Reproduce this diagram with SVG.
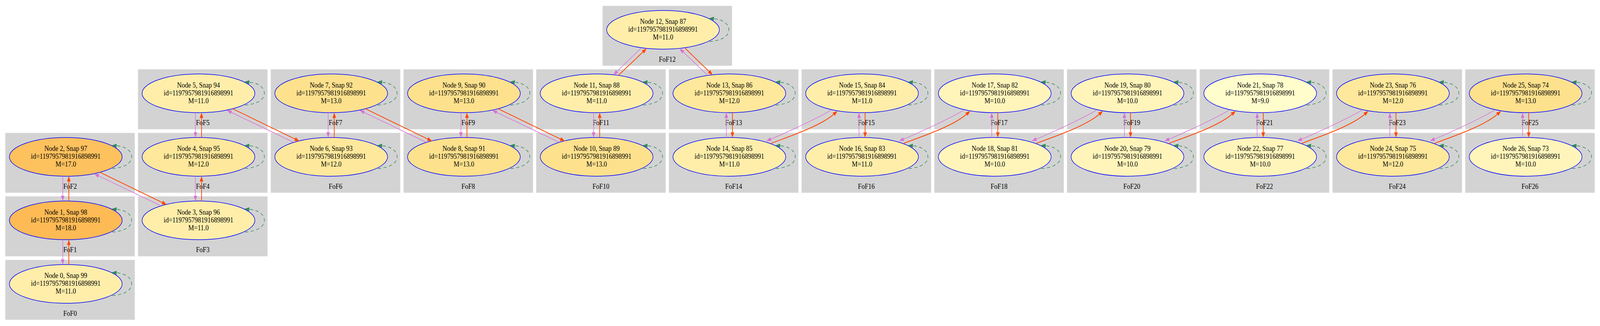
<svg xmlns="http://www.w3.org/2000/svg" width="4469" height="834" viewBox="0 0 4469 834" preserveAspectRatio="none">
<style>
:root{width:100%;height:100%}
.cl{fill:#d3d3d3;stroke:#d9d9d9;stroke-width:1}
.cl text{fill:#000;stroke:none}
text{font-family:"Liberation Serif","Times New Roman",serif;font-size:18px;text-anchor:middle;fill:#000}
.node ellipse{stroke:#0000ff;stroke-width:1.5}
.m9{fill:#fffdcc}.m10{fill:#fff5bb}.m11{fill:#feeeaa}.m12{fill:#fee89b}.m13{fill:#fde18d}.m17{fill:#fdc15e}.m18{fill:#fdba55}
.oc{fill:none;stroke:#da70d6;stroke-width:1.5;marker-end:url(#aoc)}
.or{fill:none;stroke:#ff4500;stroke-width:2;marker-end:url(#aor)}
.lp{fill:none;stroke:#2e8b57;stroke-width:1.5;stroke-dasharray:9,7;marker-end:url(#alp)}
</style>
<defs>
<marker id="aoc" markerUnits="userSpaceOnUse" markerWidth="20" markerHeight="20" refX="0" refY="0" orient="auto" overflow="visible"><path d="M0,-5 L13.5,0 L0,5 z" fill="#da70d6"/></marker>
<marker id="aor" markerUnits="userSpaceOnUse" markerWidth="20" markerHeight="20" refX="0" refY="0" orient="auto" overflow="visible"><path d="M0,-5 L13.5,0 L0,5 z" fill="#ff4500"/></marker>
<marker id="alp" markerUnits="userSpaceOnUse" markerWidth="20" markerHeight="20" refX="0" refY="0" orient="auto" overflow="visible"><path d="M0,-5 L13.5,0 L0,5 z" fill="#2e8b57"/></marker>
<path id="loopd" d="M130,30 C160,28 184,18 184,0 C184,-16 165,-27 142,-28.5"/>
</defs>
<rect width="4469" height="834" fill="#fff"/>
<g id="clusters">
<g id="FoF0" class="cl"><rect x="15.2" y="665.3" width="361" height="152.5"/><text x="195.7" y="807.8">FoF0</text></g>
<g id="FoF1" class="cl"><rect x="15.2" y="502.8" width="361" height="152.5"/><text x="195.7" y="645.3">FoF1</text></g>
<g id="FoF2" class="cl"><rect x="15.2" y="340.3" width="361" height="152.5"/><text x="195.7" y="482.8">FoF2</text></g>
<g id="FoF3" class="cl"><rect x="385.9" y="502.8" width="361" height="152.5"/><text x="566.4" y="645.3">FoF3</text></g>
<g id="FoF4" class="cl"><rect x="385.9" y="340.3" width="361" height="152.5"/><text x="566.4" y="482.8">FoF4</text></g>
<g id="FoF5" class="cl"><rect x="385.9" y="177.8" width="361" height="152.5"/><text x="566.4" y="320.3">FoF5</text></g>
<g id="FoF6" class="cl"><rect x="756.6" y="340.3" width="361" height="152.5"/><text x="937.1" y="482.8">FoF6</text></g>
<g id="FoF7" class="cl"><rect x="756.6" y="177.8" width="361" height="152.5"/><text x="937.1" y="320.3">FoF7</text></g>
<g id="FoF8" class="cl"><rect x="1127.3" y="340.3" width="361" height="152.5"/><text x="1307.8" y="482.8">FoF8</text></g>
<g id="FoF9" class="cl"><rect x="1127.3" y="177.8" width="361" height="152.5"/><text x="1307.8" y="320.3">FoF9</text></g>
<g id="FoF10" class="cl"><rect x="1498" y="340.3" width="361" height="152.5"/><text x="1678.5" y="482.8">FoF10</text></g>
<g id="FoF11" class="cl"><rect x="1498" y="177.8" width="361" height="152.5"/><text x="1678.5" y="320.3">FoF11</text></g>
<g id="FoF12" class="cl"><rect x="1683.4" y="15.3" width="361" height="152.5"/><text x="1863.9" y="157.8">FoF12</text></g>
<g id="FoF13" class="cl"><rect x="1868.7" y="177.8" width="361" height="152.5"/><text x="2049.2" y="320.3">FoF13</text></g>
<g id="FoF14" class="cl"><rect x="1868.7" y="340.3" width="361" height="152.5"/><text x="2049.2" y="482.8">FoF14</text></g>
<g id="FoF15" class="cl"><rect x="2239.3" y="177.8" width="361" height="152.5"/><text x="2419.8" y="320.3">FoF15</text></g>
<g id="FoF16" class="cl"><rect x="2239.3" y="340.3" width="361" height="152.5"/><text x="2419.8" y="482.8">FoF16</text></g>
<g id="FoF17" class="cl"><rect x="2610" y="177.8" width="361" height="152.5"/><text x="2790.5" y="320.3">FoF17</text></g>
<g id="FoF18" class="cl"><rect x="2610" y="340.3" width="361" height="152.5"/><text x="2790.5" y="482.8">FoF18</text></g>
<g id="FoF19" class="cl"><rect x="2980.7" y="177.8" width="361" height="152.5"/><text x="3161.2" y="320.3">FoF19</text></g>
<g id="FoF20" class="cl"><rect x="2980.7" y="340.3" width="361" height="152.5"/><text x="3161.2" y="482.8">FoF20</text></g>
<g id="FoF21" class="cl"><rect x="3351.4" y="177.8" width="361" height="152.5"/><text x="3531.9" y="320.3">FoF21</text></g>
<g id="FoF22" class="cl"><rect x="3351.4" y="340.3" width="361" height="152.5"/><text x="3531.9" y="482.8">FoF22</text></g>
<g id="FoF23" class="cl"><rect x="3722.1" y="177.8" width="361" height="152.5"/><text x="3902.6" y="320.3">FoF23</text></g>
<g id="FoF24" class="cl"><rect x="3722.1" y="340.3" width="361" height="152.5"/><text x="3902.6" y="482.8">FoF24</text></g>
<g id="FoF25" class="cl"><rect x="4092.8" y="177.8" width="361" height="152.5"/><text x="4273.3" y="320.3">FoF25</text></g>
<g id="FoF26" class="cl"><rect x="4092.8" y="340.3" width="361" height="152.5"/><text x="4273.3" y="482.8">FoF26</text></g>
</g>
<g id="nodes">
<g id="node0" class="node" transform="translate(183.7,726.3)"><ellipse class="m11" rx="157.5" ry="49.5"/><text y="-15">Node 0, Snap 99</text><text y="5">id=1197957981916898991</text><text y="25">M=11.0</text></g>
<g id="node1" class="node" transform="translate(183.7,563.8)"><ellipse class="m18" rx="157.5" ry="49.5"/><text y="-15">Node 1, Snap 98</text><text y="5">id=1197957981916898991</text><text y="25">M=18.0</text></g>
<g id="node2" class="node" transform="translate(183.7,401.3)"><ellipse class="m17" rx="157.5" ry="49.5"/><text y="-15">Node 2, Snap 97</text><text y="5">id=1197957981916898991</text><text y="25">M=17.0</text></g>
<g id="node3" class="node" transform="translate(554.4,563.8)"><ellipse class="m11" rx="157.5" ry="49.5"/><text y="-15">Node 3, Snap 96</text><text y="5">id=1197957981916898991</text><text y="25">M=11.0</text></g>
<g id="node4" class="node" transform="translate(554.4,401.3)"><ellipse class="m12" rx="157.5" ry="49.5"/><text y="-15">Node 4, Snap 95</text><text y="5">id=1197957981916898991</text><text y="25">M=12.0</text></g>
<g id="node5" class="node" transform="translate(554.4,238.8)"><ellipse class="m11" rx="157.5" ry="49.5"/><text y="-15">Node 5, Snap 94</text><text y="5">id=1197957981916898991</text><text y="25">M=11.0</text></g>
<g id="node6" class="node" transform="translate(925.1,401.3)"><ellipse class="m12" rx="157.5" ry="49.5"/><text y="-15">Node 6, Snap 93</text><text y="5">id=1197957981916898991</text><text y="25">M=12.0</text></g>
<g id="node7" class="node" transform="translate(925.1,238.8)"><ellipse class="m13" rx="157.5" ry="49.5"/><text y="-15">Node 7, Snap 92</text><text y="5">id=1197957981916898991</text><text y="25">M=13.0</text></g>
<g id="node8" class="node" transform="translate(1295.8,401.3)"><ellipse class="m13" rx="157.5" ry="49.5"/><text y="-15">Node 8, Snap 91</text><text y="5">id=1197957981916898991</text><text y="25">M=13.0</text></g>
<g id="node9" class="node" transform="translate(1295.8,238.8)"><ellipse class="m13" rx="157.5" ry="49.5"/><text y="-15">Node 9, Snap 90</text><text y="5">id=1197957981916898991</text><text y="25">M=13.0</text></g>
<g id="node10" class="node" transform="translate(1666.5,401.3)"><ellipse class="m13" rx="157.5" ry="49.5"/><text y="-15">Node 10, Snap 89</text><text y="5">id=1197957981916898991</text><text y="25">M=13.0</text></g>
<g id="node11" class="node" transform="translate(1666.5,238.8)"><ellipse class="m11" rx="157.5" ry="49.5"/><text y="-15">Node 11, Snap 88</text><text y="5">id=1197957981916898991</text><text y="25">M=11.0</text></g>
<g id="node12" class="node" transform="translate(1851.9,76.3)"><ellipse class="m11" rx="157.5" ry="49.5"/><text y="-15">Node 12, Snap 87</text><text y="5">id=1197957981916898991</text><text y="25">M=11.0</text></g>
<g id="node13" class="node" transform="translate(2037.2,238.8)"><ellipse class="m12" rx="157.5" ry="49.5"/><text y="-15">Node 13, Snap 86</text><text y="5">id=1197957981916898991</text><text y="25">M=12.0</text></g>
<g id="node14" class="node" transform="translate(2037.2,401.3)"><ellipse class="m11" rx="157.5" ry="49.5"/><text y="-15">Node 14, Snap 85</text><text y="5">id=1197957981916898991</text><text y="25">M=11.0</text></g>
<g id="node15" class="node" transform="translate(2407.8,238.8)"><ellipse class="m11" rx="157.5" ry="49.5"/><text y="-15">Node 15, Snap 84</text><text y="5">id=1197957981916898991</text><text y="25">M=11.0</text></g>
<g id="node16" class="node" transform="translate(2407.8,401.3)"><ellipse class="m11" rx="157.5" ry="49.5"/><text y="-15">Node 16, Snap 83</text><text y="5">id=1197957981916898991</text><text y="25">M=11.0</text></g>
<g id="node17" class="node" transform="translate(2778.5,238.8)"><ellipse class="m10" rx="157.5" ry="49.5"/><text y="-15">Node 17, Snap 82</text><text y="5">id=1197957981916898991</text><text y="25">M=10.0</text></g>
<g id="node18" class="node" transform="translate(2778.5,401.3)"><ellipse class="m10" rx="157.5" ry="49.5"/><text y="-15">Node 18, Snap 81</text><text y="5">id=1197957981916898991</text><text y="25">M=10.0</text></g>
<g id="node19" class="node" transform="translate(3149.2,238.8)"><ellipse class="m10" rx="157.5" ry="49.5"/><text y="-15">Node 19, Snap 80</text><text y="5">id=1197957981916898991</text><text y="25">M=10.0</text></g>
<g id="node20" class="node" transform="translate(3149.2,401.3)"><ellipse class="m10" rx="157.5" ry="49.5"/><text y="-15">Node 20, Snap 79</text><text y="5">id=1197957981916898991</text><text y="25">M=10.0</text></g>
<g id="node21" class="node" transform="translate(3519.9,238.8)"><ellipse class="m9" rx="157.5" ry="49.5"/><text y="-15">Node 21, Snap 78</text><text y="5">id=1197957981916898991</text><text y="25">M=9.0</text></g>
<g id="node22" class="node" transform="translate(3519.9,401.3)"><ellipse class="m10" rx="157.5" ry="49.5"/><text y="-15">Node 22, Snap 77</text><text y="5">id=1197957981916898991</text><text y="25">M=10.0</text></g>
<g id="node23" class="node" transform="translate(3890.6,238.8)"><ellipse class="m12" rx="157.5" ry="49.5"/><text y="-15">Node 23, Snap 76</text><text y="5">id=1197957981916898991</text><text y="25">M=12.0</text></g>
<g id="node24" class="node" transform="translate(3890.6,401.3)"><ellipse class="m12" rx="157.5" ry="49.5"/><text y="-15">Node 24, Snap 75</text><text y="5">id=1197957981916898991</text><text y="25">M=12.0</text></g>
<g id="node25" class="node" transform="translate(4261.3,238.8)"><ellipse class="m13" rx="157.5" ry="49.5"/><text y="-15">Node 25, Snap 74</text><text y="5">id=1197957981916898991</text><text y="25">M=13.0</text></g>
<g id="node26" class="node" transform="translate(4261.3,401.3)"><ellipse class="m10" rx="157.5" ry="49.5"/><text y="-15">Node 26, Snap 73</text><text y="5">id=1197957981916898991</text><text y="25">M=10.0</text></g>
</g>
<g id="edges">
<path class="oc" d="M175.2,450.7 V500.9"/>
<path class="or" d="M192.2,514.4 V464.2"/>
<path class="oc" d="M175.2,613.2 V663.4"/>
<path class="or" d="M192.2,676.9 V626.7"/>
<path class="oc" d="M545.9,288.2 V338.4"/>
<path class="or" d="M562.9,351.9 V301.7"/>
<path class="oc" d="M545.9,450.7 V500.9"/>
<path class="or" d="M562.9,514.4 V464.2"/>
<path class="oc" d="M916.6,288.2 V338.4"/>
<path class="or" d="M933.6,351.9 V301.7"/>
<path class="oc" d="M1287.3,288.2 V338.4"/>
<path class="or" d="M1304.3,351.9 V301.7"/>
<path class="oc" d="M1658,288.2 V338.4"/>
<path class="or" d="M1675,351.9 V301.7"/>
<path class="oc" d="M2028.7,351.9 V301.7"/>
<path class="or" d="M2045.7,288.2 V338.4"/>
<path class="oc" d="M2399.3,351.9 V301.7"/>
<path class="or" d="M2416.3,288.2 V338.4"/>
<path class="oc" d="M2770,351.9 V301.7"/>
<path class="or" d="M2787,288.2 V338.4"/>
<path class="oc" d="M3140.7,351.9 V301.7"/>
<path class="or" d="M3157.7,288.2 V338.4"/>
<path class="oc" d="M3511.4,351.9 V301.7"/>
<path class="or" d="M3528.4,288.2 V338.4"/>
<path class="oc" d="M3882.1,351.9 V301.7"/>
<path class="or" d="M3899.1,288.2 V338.4"/>
<path class="oc" d="M4252.8,351.9 V301.7"/>
<path class="or" d="M4269.8,288.2 V338.4"/>
<path class="or" d="M279.4,440.9 L453.2,518.1"/>
<path class="oc" d="M448.7,526.2 L275.4,450"/>
<path class="or" d="M650.1,278.4 L823.9,355.6"/>
<path class="oc" d="M819.4,363.7 L646.1,287.5"/>
<path class="or" d="M1020.8,278.4 L1194.6,355.6"/>
<path class="oc" d="M1190.1,363.7 L1016.8,287.5"/>
<path class="or" d="M1391.5,278.4 L1565.3,355.6"/>
<path class="oc" d="M1560.8,363.7 L1387.5,287.5"/>
<path class="oc" d="M1790.2,123.3 L1723.4,182.7"/>
<path class="or" d="M1727.3,192.7 L1795.8,132.9"/>
<path class="oc" d="M1976.4,192.7 L1908.2,132.9"/>
<path class="or" d="M1913.5,123.3 L1980.4,182.8"/>
<path class="or" d="M2153.8,366.7 C2193.8,352.3 2288.7,324.4 2328.7,292.4"/>
<path class="oc" d="M2321.3,281.7 C2286.3,301.7 2189.8,342 2153.2,355.9"/>
<path class="or" d="M2524.4,366.7 C2564.4,352.3 2659.4,324.4 2699.4,292.4"/>
<path class="oc" d="M2692,281.7 C2657,301.7 2560.4,342 2523.8,355.9"/>
<path class="or" d="M2895.1,366.7 C2935.1,352.3 3030.1,324.4 3070.1,292.4"/>
<path class="oc" d="M3062.7,281.7 C3027.7,301.7 2931.1,342 2894.5,355.9"/>
<path class="or" d="M3265.8,366.7 C3305.8,352.3 3400.8,324.4 3440.8,292.4"/>
<path class="oc" d="M3433.4,281.7 C3398.4,301.7 3301.8,342 3265.2,355.9"/>
<path class="or" d="M3636.5,366.7 C3676.5,352.3 3771.5,324.4 3811.5,292.4"/>
<path class="oc" d="M3804.1,281.7 C3769.1,301.7 3672.5,342 3635.9,355.9"/>
<path class="or" d="M4007.2,366.7 C4047.2,352.3 4142.2,324.4 4182.2,292.4"/>
<path class="oc" d="M4174.8,281.7 C4139.8,301.7 4043.2,342 4006.6,355.9"/>
<use href="#loopd" class="lp" x="183.7" y="726.3"/>
<use href="#loopd" class="lp" x="183.7" y="563.8"/>
<use href="#loopd" class="lp" x="183.7" y="401.3"/>
<use href="#loopd" class="lp" x="554.4" y="563.8"/>
<use href="#loopd" class="lp" x="554.4" y="401.3"/>
<use href="#loopd" class="lp" x="554.4" y="238.8"/>
<use href="#loopd" class="lp" x="925.1" y="401.3"/>
<use href="#loopd" class="lp" x="925.1" y="238.8"/>
<use href="#loopd" class="lp" x="1295.8" y="401.3"/>
<use href="#loopd" class="lp" x="1295.8" y="238.8"/>
<use href="#loopd" class="lp" x="1666.5" y="401.3"/>
<use href="#loopd" class="lp" x="1666.5" y="238.8"/>
<use href="#loopd" class="lp" x="1851.9" y="76.3"/>
<use href="#loopd" class="lp" x="2037.2" y="238.8"/>
<use href="#loopd" class="lp" x="2037.2" y="401.3"/>
<use href="#loopd" class="lp" x="2407.8" y="238.8"/>
<use href="#loopd" class="lp" x="2407.8" y="401.3"/>
<use href="#loopd" class="lp" x="2778.5" y="238.8"/>
<use href="#loopd" class="lp" x="2778.5" y="401.3"/>
<use href="#loopd" class="lp" x="3149.2" y="238.8"/>
<use href="#loopd" class="lp" x="3149.2" y="401.3"/>
<use href="#loopd" class="lp" x="3519.9" y="238.8"/>
<use href="#loopd" class="lp" x="3519.9" y="401.3"/>
<use href="#loopd" class="lp" x="3890.6" y="238.8"/>
<use href="#loopd" class="lp" x="3890.6" y="401.3"/>
<use href="#loopd" class="lp" x="4261.3" y="238.8"/>
<use href="#loopd" class="lp" x="4261.3" y="401.3"/>
</g>
</svg>
